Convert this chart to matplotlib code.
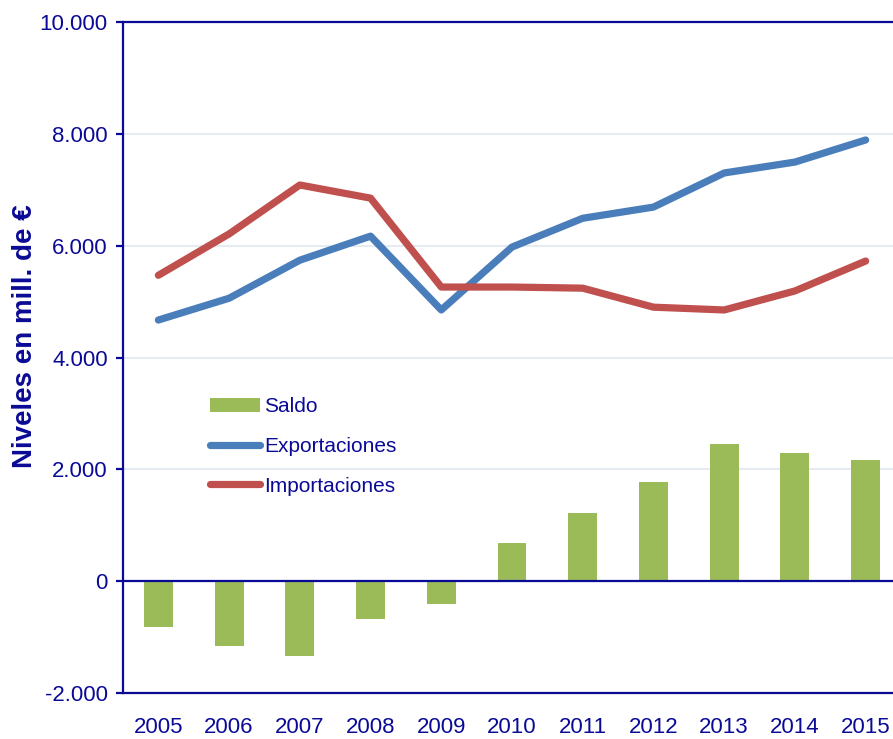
import matplotlib.pyplot as plt
import numpy as np

years = ['2005', '2006', '2007', '2008', '2009', '2010', '2011', '2012', '2013', '2014', '2015']
exportaciones = [4670, 5060, 5740, 6170, 4850, 5975, 6490, 6690, 7300, 7495, 7890]
importaciones = [5470, 6210, 7085, 6850, 5260, 5260, 5240, 4900, 4850, 5190, 5725]
saldo = [-820, -1160, -1340, -680, -410, 680, 1215, 1770, 2450, 2290, 2165]
yticks = [-2000, 0, 2000, 4000, 6000, 8000, 10000]
ytick_labels = ['-2.000', '0', '2.000', '4.000', '6.000', '8.000', '10.000']

navy = '#0A0A96'
green = '#9BBB59'
blue = '#4A7EBB'
red = '#C0504D'
grid_col = '#E6EBF3'

plt.rcParams['font.family'] = ['Liberation Sans', 'DejaVu Sans']

fig = plt.figure(figsize=(8.93, 7.39), dpi=100)
ax = fig.add_axes([123 / 893, 1 - 693 / 739, 778 / 893, 671 / 739])

x = np.arange(len(years))
bars = ax.bar(x, saldo, width=0.41, color=green, label='Saldo', zorder=2)
l_exp, = ax.plot(x, exportaciones, color=blue, lw=5.2, solid_capstyle='round',
                 label='Exportaciones', zorder=3)
l_imp, = ax.plot(x, importaciones, color=red, lw=5.2, solid_capstyle='round',
                 label='Importaciones', zorder=3)
ax.axhline(0, color=navy, lw=1.6, zorder=4)

ax.set_xlim(-0.5, len(years) - 0.5)
ax.set_ylim(-2000, 10000)
ax.set_xticks(x)
ax.set_xticklabels(years)
ax.set_yticks(yticks)
ax.set_yticklabels(ytick_labels)
ax.grid(axis='y', color=grid_col, lw=1.5, zorder=0)
ax.set_axisbelow(True)

for side in ['left', 'top', 'bottom']:
    ax.spines[side].set_color(navy)
    ax.spines[side].set_linewidth(1.6)
ax.spines['right'].set_visible(False)

ax.tick_params(axis='y', colors=navy, labelsize=16, length=5, width=1.6, pad=6)
ax.tick_params(axis='x', colors=navy, labelsize=16, length=0, pad=17)

fig.text(25 / 893, 1 - 336 / 739, 'Niveles en mill. de €', rotation=90,
         ha='center', va='center', color=navy, fontsize=20, fontweight='bold')

leg = ax.legend([bars, l_exp, l_imp], ['Saldo', 'Exportaciones', 'Importaciones'],
                loc='upper left', bbox_to_anchor=(0.112, 0.441), frameon=False,
                fontsize=15, handlelength=2.4, handletextpad=0.2, labelspacing=1.0,
                handleheight=0.7, borderpad=0, borderaxespad=0)
for t in leg.get_texts():
    t.set_color(navy)

fig.savefig('out.png', dpi=100)
